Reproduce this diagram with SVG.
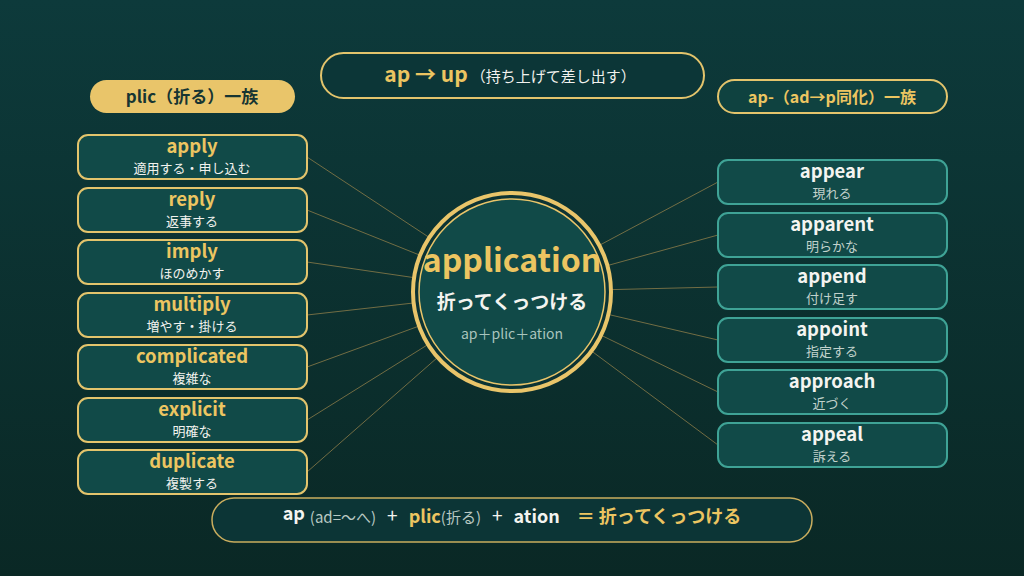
<svg xmlns="http://www.w3.org/2000/svg" width="1024" height="576" viewBox="0 0 1024 576">
<defs>
<linearGradient id="bg" x1="0" y1="0" x2="0" y2="1">
<stop offset="0" stop-color="#0d3a3b"/>
<stop offset="1" stop-color="#0a2825"/>
</linearGradient>
<style>
text{font-family:"Noto Sans CJK JP","Noto Sans",sans-serif;}
.lbox{fill:#114a48;stroke:#e3c46c;stroke-width:2;}
.rbox{fill:#114a48;stroke:#3fa396;stroke-width:2;}
.lw{fill:#ecc561;font-size:18.5px;font-weight:700;text-anchor:middle;}
.lm{fill:#f2f2ee;font-size:13px;text-anchor:middle;}
.rw{fill:#f4f4f0;font-size:18.5px;font-weight:700;text-anchor:middle;}
.rm{fill:#c2d2cc;font-size:13px;text-anchor:middle;}
.conn line{stroke:#8c7d4a;stroke-width:1;opacity:0.8;}
</style>
</defs>
<rect width="1024" height="576" fill="url(#bg)"/>

<g id="connectors" class="conn">
<line x1="307" y1="157" x2="428.5" y2="237"/>
<line x1="307" y1="210" x2="419.2" y2="254.9"/>
<line x1="307" y1="262" x2="413.1" y2="277.5"/>
<line x1="307" y1="315" x2="412.6" y2="303.1"/>
<line x1="307" y1="367" x2="418.1" y2="326.4"/>
<line x1="307" y1="420" x2="427.2" y2="345"/>
<line x1="307" y1="472" x2="436.9" y2="358"/>
<line x1="718" y1="182" x2="600.2" y2="244.9"/>
<line x1="718" y1="235" x2="608.4" y2="265.3"/>
<line x1="718" y1="287" x2="612" y2="289.6"/>
<line x1="718" y1="340" x2="609.4" y2="314.7"/>
<line x1="718" y1="392" x2="602" y2="335.7"/>
<line x1="718" y1="445" x2="592.3" y2="351.6"/>
</g>

<g id="top-banner">
<rect x="321" y="53" width="383" height="45" rx="22.5" fill="#0c3637" stroke="#e3c46c" stroke-width="2"/>
<text x="510" y="82" text-anchor="middle"><tspan fill="#ecc561" font-size="21" font-weight="700">ap → up</tspan><tspan fill="#f2f2ee" font-size="15" dx="3">（持ち上げて差し出す）</tspan></text>
</g>

<g id="plic-label">
<rect x="90" y="80" width="205" height="33" rx="16.5" fill="#e9c56a"/>
<text x="192" y="102.5" text-anchor="middle" fill="#163532" font-size="17" font-weight="700">plic（折る）一族</text>
</g>

<g id="ap-label">
<rect x="718" y="80" width="229" height="33" rx="16.5" fill="#0f4240" stroke="#e3c46c" stroke-width="2"/>
<text x="832" y="102.5" text-anchor="middle" fill="#ecc561" font-size="16" font-weight="700">ap-（ad→p同化）一族</text>
</g>

<g id="center">
<circle cx="512" cy="292" r="99" fill="#0c3334" stroke="#e9c56a" stroke-width="4"/>
<circle cx="512" cy="292" r="93" fill="#114a48" stroke="#e9c56a" stroke-width="1.5"/>
<text x="512" y="272" text-anchor="middle" fill="#ecc561" font-size="32" font-weight="700">application</text>
<text x="512" y="309" text-anchor="middle" fill="#f4f4f0" font-size="19" font-weight="700">折ってくっつける</text>
<text x="512" y="339" text-anchor="middle" fill="#a9c4bd" font-size="14">ap＋plic＋ation</text>
</g>

<g id="apply"><rect class="lbox" x="78" y="135" width="229" height="44" rx="10"/><text class="lw" x="192" y="153">apply</text><text class="lm" x="192" y="173">適用する・申し込む</text></g>
<g id="reply"><rect class="lbox" x="78" y="188" width="229" height="44" rx="10"/><text class="lw" x="192" y="206">reply</text><text class="lm" x="192" y="226">返事する</text></g>
<g id="imply"><rect class="lbox" x="78" y="240" width="229" height="44" rx="10"/><text class="lw" x="192" y="258">imply</text><text class="lm" x="192" y="278">ほのめかす</text></g>
<g id="multiply"><rect class="lbox" x="78" y="293" width="229" height="44" rx="10"/><text class="lw" x="192" y="311">multiply</text><text class="lm" x="192" y="331">増やす・掛ける</text></g>
<g id="complicated"><rect class="lbox" x="78" y="345" width="229" height="44" rx="10"/><text class="lw" x="192" y="363">complicated</text><text class="lm" x="192" y="383">複雑な</text></g>
<g id="explicit"><rect class="lbox" x="78" y="398" width="229" height="44" rx="10"/><text class="lw" x="192" y="416">explicit</text><text class="lm" x="192" y="436">明確な</text></g>
<g id="duplicate"><rect class="lbox" x="78" y="450" width="229" height="44" rx="10"/><text class="lw" x="192" y="468">duplicate</text><text class="lm" x="192" y="488">複製する</text></g>

<g id="appear"><rect class="rbox" x="718" y="160" width="229" height="44" rx="10"/><text class="rw" x="832" y="178">appear</text><text class="rm" x="832" y="198">現れる</text></g>
<g id="apparent"><rect class="rbox" x="718" y="213" width="229" height="44" rx="10"/><text class="rw" x="832" y="231">apparent</text><text class="rm" x="832" y="251">明らかな</text></g>
<g id="append"><rect class="rbox" x="718" y="265" width="229" height="44" rx="10"/><text class="rw" x="832" y="283">append</text><text class="rm" x="832" y="303">付け足す</text></g>
<g id="appoint"><rect class="rbox" x="718" y="318" width="229" height="44" rx="10"/><text class="rw" x="832" y="336">appoint</text><text class="rm" x="832" y="356">指定する</text></g>
<g id="approach"><rect class="rbox" x="718" y="370" width="229" height="44" rx="10"/><text class="rw" x="832" y="388">approach</text><text class="rm" x="832" y="408">近づく</text></g>
<g id="appeal"><rect class="rbox" x="718" y="423" width="229" height="44" rx="10"/><text class="rw" x="832" y="441">appeal</text><text class="rm" x="832" y="461">訴える</text></g>

<g id="formula">
<rect x="212" y="498" width="600" height="44" rx="22" fill="#0c3536" stroke="#c9ad5e" stroke-width="1.5"/>
<text x="512" y="523" text-anchor="middle"><tspan fill="#f4f4f0" font-size="18" font-weight="700" dy="-3">ap</tspan><tspan fill="#b9c9c3" font-size="15" dx="5" dy="3">(ad=〜へ)</tspan><tspan fill="#f4f4f0" font-size="19" dx="11">+</tspan><tspan fill="#ecc561" font-size="18" font-weight="700" dx="11">plic</tspan><tspan fill="#b9c9c3" font-size="15">(折る)</tspan><tspan fill="#f4f4f0" font-size="19" dx="11">+</tspan><tspan fill="#f4f4f0" font-size="18" font-weight="700" dx="11">ation</tspan><tspan fill="#ecc561" font-size="18" font-weight="700" dx="17">＝ 折ってくっつける</tspan></text>
</g>
</svg>
